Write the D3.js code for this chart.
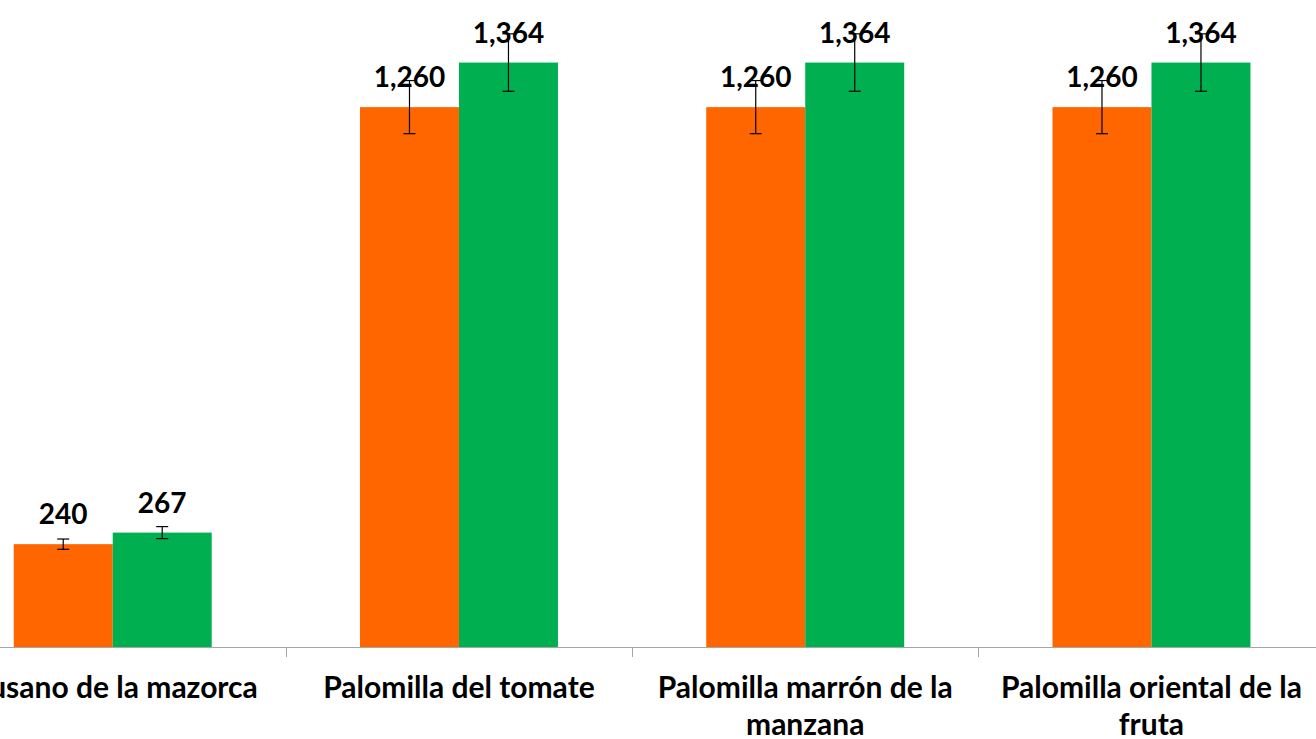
<!DOCTYPE html>
<html>
<head>
<meta charset="utf-8">
<script src="https://cdn.jsdelivr.net/npm/d3@7"></script>
<style>
  body { margin: 0; background: #fff; }
  svg { display: block; overflow: hidden; }
  .value { font-family: Lato, sans-serif; font-weight: bold; font-size: 28px; fill: #000; }
  .cat { font-family: Lato, sans-serif; font-weight: bold; font-size: 30px; fill: #000; }
</style>
</head>
<body>
<script>
var width = 1316, height = 739;

// data
var categories = ["Gusano de la mazorca", "Palomilla del tomate", "Palomilla marrón de la manzana", "Palomilla oriental de la fruta"];
var seriesNames = ["Serie 1", "Serie 2"];
var orangeValues = [240, 1260, 1260, 1260];
var greenValues = [267, 1364, 1364, 1364];
var orangeErrors = [12, 62, 62, 62];
var greenErrors = [14, 67, 67, 67];
var colors = ["#FF6600", "#00B050"];

var data = categories.map(function (c, i) {
  return {
    cat: c,
    values: [
      { key: seriesNames[0], value: orangeValues[i], err: orangeErrors[i] },
      { key: seriesNames[1], value: greenValues[i], err: greenErrors[i] }
    ]
  };
});

var baseline = 647;

var x0 = d3.scaleBand().domain(categories).range([-60.4, 1324.6]).padding(0);
var x1 = d3.scaleBand().domain(seriesNames).range([0, x0.bandwidth()])
  .paddingInner(0).paddingOuter(0.749);
var y = d3.scaleLinear().domain([0, 1510]).range([baseline, 0]);
var color = d3.scaleOrdinal().domain(seriesNames).range(colors);
var fmt = d3.format(",");

var svg = d3.select("body").append("svg")
  .attr("width", width)
  .attr("height", height);

// bars
var groups = svg.selectAll(".group")
  .data(data)
  .enter().append("g")
  .attr("class", "group")
  .attr("transform", function (d) { return "translate(" + x0(d.cat) + ",0)"; });

groups.selectAll("rect")
  .data(function (d) { return d.values; })
  .enter().append("rect")
  .attr("x", function (d) { return x1(d.key); })
  .attr("y", function (d) { return y(d.value); })
  .attr("width", x1.bandwidth())
  .attr("height", function (d) { return baseline - y(d.value); })
  .attr("fill", function (d) { return color(d.key); });

// x axis
var xAxis = d3.axisBottom(x0).tickSize(0).tickFormat("");
var axisG = svg.append("g")
  .attr("transform", "translate(0," + baseline + ")")
  .call(xAxis);
axisG.select(".domain").attr("stroke", "#a6a6a6").attr("d", "M-60.4,0.5H1324.6");

// tick marks at category boundaries
var bounds = categories.slice(1).map(function (c) { return x0(c); });
axisG.selectAll(".bound")
  .data(bounds)
  .enter().append("line")
  .attr("class", "bound")
  .attr("x1", function (d) { return Math.round(d) + 0.5; })
  .attr("x2", function (d) { return Math.round(d) + 0.5; })
  .attr("y1", 0)
  .attr("y2", 10)
  .attr("stroke", "#a6a6a6");

// error bars
var eb = groups.selectAll(".err")
  .data(function (d) { return d.values; })
  .enter().append("g")
  .attr("class", "err")
  .attr("stroke", "#000")
  .attr("stroke-width", 1.2);

function cx(d) { return x1(d.key) + x1.bandwidth() / 2; }

eb.append("line")
  .attr("x1", cx).attr("x2", cx)
  .attr("y1", function (d) { return y(d.value + d.err); })
  .attr("y2", function (d) { return y(d.value - d.err); });
eb.append("line")
  .attr("x1", function (d) { return cx(d) - 6; })
  .attr("x2", function (d) { return cx(d) + 6; })
  .attr("y1", function (d) { return y(d.value + d.err); })
  .attr("y2", function (d) { return y(d.value + d.err); });
eb.append("line")
  .attr("x1", function (d) { return cx(d) - 6; })
  .attr("x2", function (d) { return cx(d) + 6; })
  .attr("y1", function (d) { return y(d.value - d.err); })
  .attr("y2", function (d) { return y(d.value - d.err); });

// value labels
groups.selectAll(".value")
  .data(function (d) { return d.values; })
  .enter().append("text")
  .attr("class", "value")
  .attr("x", cx)
  .attr("y", function (d) { return y(d.value) - 20; })
  .attr("text-anchor", "middle")
  .text(function (d) { return fmt(d.value); });

// category labels with wrapping
var catText = svg.selectAll(".cat")
  .data(categories)
  .enter().append("text")
  .attr("class", "cat")
  .attr("text-anchor", "middle")
  .attr("x", function (d) { return x0(d) + x0.bandwidth() / 2; })
  .attr("y", 698);

catText.each(function (d) {
  var text = d3.select(this),
    words = d.split(" "),
    line = [],
    cxx = text.attr("x"),
    tspan = text.append("tspan").attr("x", cxx).attr("dy", 0);
  words.forEach(function (w) {
    line.push(w);
    tspan.text(line.join(" "));
    if (tspan.node().getComputedTextLength() > 325 && line.length > 1) {
      line.pop();
      tspan.text(line.join(" "));
      line = [w];
      tspan = text.append("tspan").attr("x", cxx).attr("dy", 37).text(w);
    }
  });
});
</script>
</body>
</html>
